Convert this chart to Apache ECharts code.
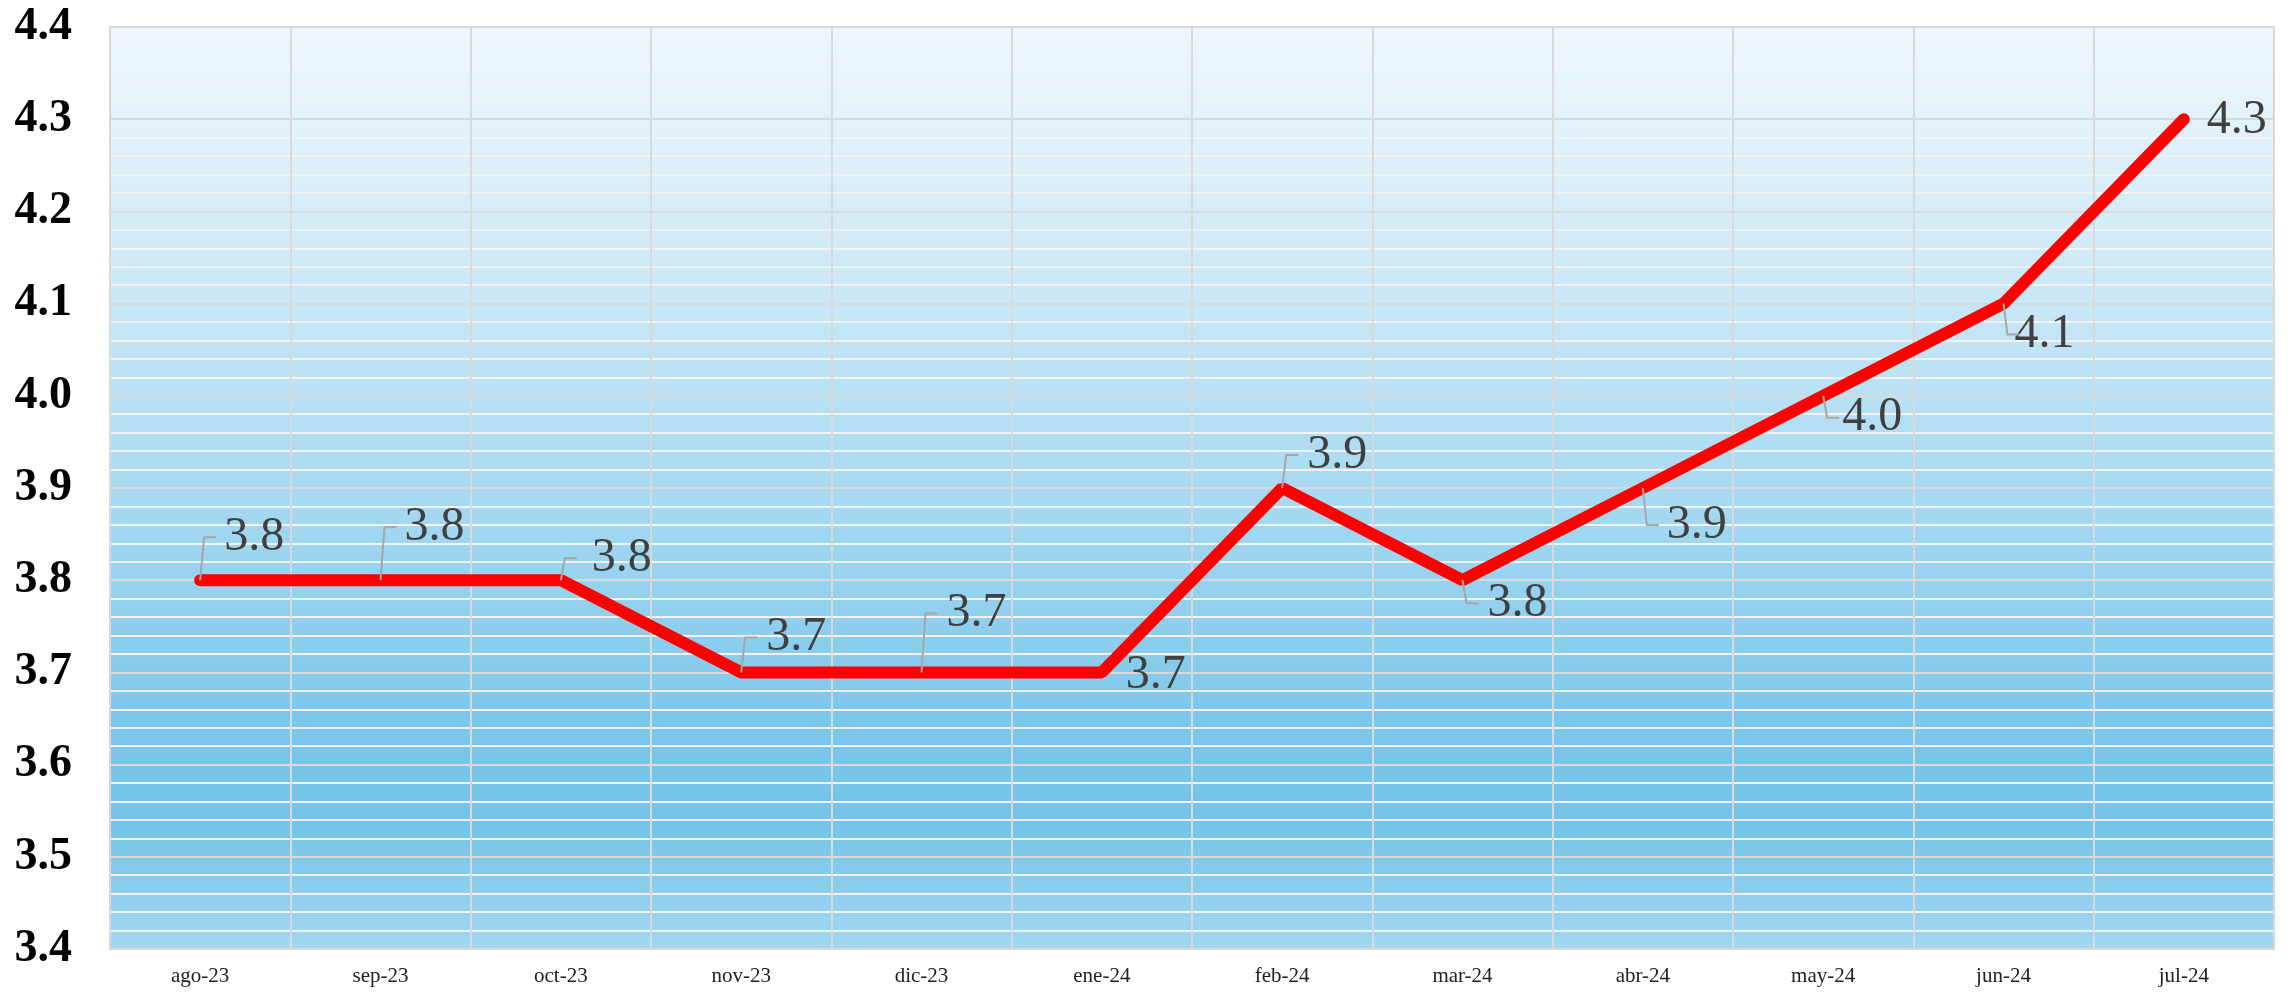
<!DOCTYPE html>
<html>
<head>
<meta charset="utf-8">
<script src="https://cdn.jsdelivr.net/npm/echarts@6/dist/echarts.min.js"></script>
<style>
  html, body { margin: 0; padding: 0; background: #fff; }
  #chart { width: 2292px; height: 994px; }
</style>
</head>
<body>
<div id="chart"></div>
<script>
// datos
const meses = ['ago-23', 'sep-23', 'oct-23', 'nov-23', 'dic-23', 'ene-24',
  'feb-24', 'mar-24', 'abr-24', 'may-24', 'jun-24', 'jul-24']
const valores = [3.8, 3.8, 3.8, 3.7, 3.7, 3.7, 3.9, 3.8, 3.9, 4.0, 4.1, 4.3]
const yMin = 3.4
const yMax = 4.4
const yPaso = 0.1

// desplazamiento de cada etiqueta respecto a su punto (px)
const etiquetaDx = [54, 54, 61, 55, 55, 54, 55, 55, 54, 49, 41, 53]
const etiquetaDy = [-43, -53, -22, -35, -59, 3, -33, 23, 37, 22, 31, 1]

const chart = echarts.init(document.getElementById('chart'))
chart.setOption({
  animation: false,
  grid: {
    left: 110, right: 18, top: 27, bottom: 45,
    show: true,
    borderColor: '#d9d9d9',
    borderWidth: 2,
    backgroundColor: new echarts.graphic.LinearGradient(0, 0, 0, 1, [
      { offset: 0, color: '#eef7fd' },
      { offset: 0.25, color: '#d0eaf7' },
      { offset: 0.5, color: '#a9daf2' },
      { offset: 0.75, color: '#7dc7ea' },
      { offset: 0.86, color: '#74c3e8' },
      { offset: 1, color: '#a3d8f1' }
    ])
  },
  xAxis: {
    type: 'category',
    data: meses,
    boundaryGap: true,
    axisLine: { show: true, lineStyle: { color: '#d9d9d9', width: 2 } },
    axisTick: { show: false },
    axisLabel: {
      margin: 17,
      fontFamily: 'Liberation Serif',
      fontSize: 21,
      color: '#222'
    },
    splitLine: { show: true, interval: 0, lineStyle: { color: '#d9d9d9', width: 2 } }
  },
  yAxis: {
    type: 'value',
    min: yMin,
    max: yMax,
    interval: yPaso,
    axisLine: { show: false },
    axisTick: { show: false },
    axisLabel: {
      margin: 38,
      fontFamily: 'Liberation Serif',
      fontWeight: 'bold',
      fontSize: 46,
      color: '#000',
      formatter: v => v.toFixed(1)
    },
    splitLine: { show: true, lineStyle: { color: '#d9d9d9', width: 2 } },
    minorTick: { show: false, splitNumber: 5 },
    minorSplitLine: { show: true, lineStyle: { color: '#f2f2f2', width: 2 } }
  },
  series: [{
    type: 'line',
    data: valores,
    symbol: 'circle',
    symbolSize: 1,
    showSymbol: true,
    itemStyle: { color: '#ff0000' },
    lineStyle: { color: '#ff0000', width: 12, cap: 'round' },
    label: {
      show: true,
      position: 'inside',
      align: 'center',
      verticalAlign: 'middle',
      fontFamily: 'Liberation Serif',
      fontSize: 48,
      color: '#404040',
      formatter: p => p.value.toFixed(1)
    },
    labelLayout: p => ({ dx: etiquetaDx[p.dataIndex], dy: etiquetaDy[p.dataIndex] })
  }]
})

// líneas guía tipo Excel (codo vertical + tramo horizontal)
function lineasGuia() {
  const elems = []
  valores.forEach((v, i) => {
    const dy = etiquetaDy[i]
    if (Math.abs(dy) < 10) return
    const [px, py] = chart.convertToPixel({ seriesIndex: 0 }, [i, v])
    const ey = py + dy
    elems.push({
      type: 'polyline',
      z: 10,
      silent: true,
      shape: { points: [[px, py], [px + 4, ey], [px + 16, ey]] },
      style: { stroke: '#a6a6a6', lineWidth: 2, fill: null }
    })
  })
  chart.setOption({ graphic: elems })
}
lineasGuia()
</script>
</body>
</html>
